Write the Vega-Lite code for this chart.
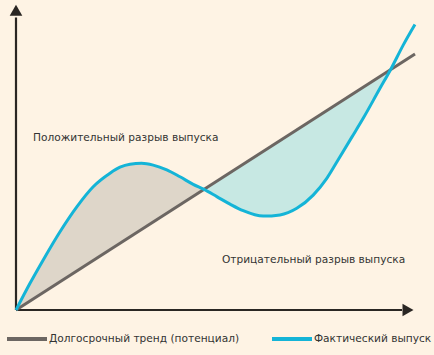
{
  "$schema": "https://vega.github.io/schema/vega-lite/v6.json",
  "width": 400,
  "height": 300,
  "autosize": {"type": "none"},
  "padding": {"left": 16, "top": 10, "right": 18, "bottom": 45},
  "background": "#FEF3E4",
  "config": {
    "view": {"stroke": null},
    "legend": {
      "orient": "none",
      "legendX": -11,
      "legendY": 307,
      "direction": "horizontal",
      "symbolType": "stroke",
      "symbolSize": 1600,
      "symbolStrokeWidth": 4,
      "labelFont": "DejaVu Sans",
      "labelFontSize": 10.6,
      "labelColor": "#333333",
      "labelLimit": 400,
      "labelOffset": 0,
      "columnPadding": 24,
      "padding": 0,
      "title": null
    }
  },
  "datasets": {
    "areas": [
      {"x": 0, "curve": 0, "trend": 0, "region": "pos"},
      {"x": 3.5, "curve": 8.9, "trend": 3.0, "region": "pos"},
      {"x": 6.8, "curve": 16.7, "trend": 5.8, "region": "pos"},
      {"x": 11, "curve": 26.1, "trend": 9.4, "region": "pos"},
      {"x": 15.2, "curve": 34.4, "trend": 13.0, "region": "pos"},
      {"x": 19.3, "curve": 41.1, "trend": 16.5, "region": "pos"},
      {"x": 23.5, "curve": 45.6, "trend": 20.1, "region": "pos"},
      {"x": 26, "curve": 47.6, "trend": 22.2, "region": "pos"},
      {"x": 28.5, "curve": 48.6, "trend": 24.4, "region": "pos"},
      {"x": 31.4, "curve": 48.9, "trend": 26.8, "region": "pos"},
      {"x": 34.3, "curve": 48.3, "trend": 29.3, "region": "pos"},
      {"x": 37.7, "curve": 46.7, "trend": 32.2, "region": "pos"},
      {"x": 41, "curve": 44.4, "trend": 35.1, "region": "pos"},
      {"x": 44.3, "curve": 41.9, "trend": 37.9, "region": "pos"},
      {"x": 47, "curve": 40.2, "trend": 40.2, "region": "pos"},
      {"x": 47, "curve": 40.2, "trend": 40.2, "region": "neg"},
      {"x": 50.2, "curve": 37.8, "trend": 42.9, "region": "neg"},
      {"x": 53.5, "curve": 35.3, "trend": 45.7, "region": "neg"},
      {"x": 56.8, "curve": 33.1, "trend": 48.6, "region": "neg"},
      {"x": 61.8, "curve": 31.3, "trend": 52.8, "region": "neg"},
      {"x": 66, "curve": 31.7, "trend": 56.4, "region": "neg"},
      {"x": 70.2, "curve": 33.9, "trend": 60.0, "region": "neg"},
      {"x": 74.3, "curve": 38.3, "trend": 63.5, "region": "neg"},
      {"x": 77.7, "curve": 43.9, "trend": 66.4, "region": "neg"},
      {"x": 81, "curve": 51.1, "trend": 69.3, "region": "neg"},
      {"x": 84, "curve": 57.7, "trend": 71.8, "region": "neg"},
      {"x": 86.8, "curve": 63.9, "trend": 74.2, "region": "neg"},
      {"x": 91, "curve": 73.9, "trend": 77.8, "region": "neg"},
      {"x": 93.6, "curve": 80.0, "trend": 80.0, "region": "neg"}
    ],
    "lines": [
      {"x": 0, "y": 0, "series": "Долгосрочный тренд (потенциал)"},
      {"x": 99.75, "y": 85.3, "series": "Долгосрочный тренд (потенциал)"},
      {"x": 0, "y": 0, "series": "Фактический выпуск"},
      {"x": 3.5, "y": 8.9, "series": "Фактический выпуск"},
      {"x": 6.8, "y": 16.7, "series": "Фактический выпуск"},
      {"x": 11, "y": 26.1, "series": "Фактический выпуск"},
      {"x": 15.2, "y": 34.4, "series": "Фактический выпуск"},
      {"x": 19.3, "y": 41.1, "series": "Фактический выпуск"},
      {"x": 23.5, "y": 45.6, "series": "Фактический выпуск"},
      {"x": 26, "y": 47.6, "series": "Фактический выпуск"},
      {"x": 28.5, "y": 48.6, "series": "Фактический выпуск"},
      {"x": 31.4, "y": 48.9, "series": "Фактический выпуск"},
      {"x": 34.3, "y": 48.3, "series": "Фактический выпуск"},
      {"x": 37.7, "y": 46.7, "series": "Фактический выпуск"},
      {"x": 41, "y": 44.4, "series": "Фактический выпуск"},
      {"x": 44.3, "y": 41.9, "series": "Фактический выпуск"},
      {"x": 47, "y": 40.2, "series": "Фактический выпуск"},
      {"x": 50.2, "y": 37.8, "series": "Фактический выпуск"},
      {"x": 53.5, "y": 35.3, "series": "Фактический выпуск"},
      {"x": 56.8, "y": 33.1, "series": "Фактический выпуск"},
      {"x": 61.8, "y": 31.3, "series": "Фактический выпуск"},
      {"x": 66, "y": 31.7, "series": "Фактический выпуск"},
      {"x": 70.2, "y": 33.9, "series": "Фактический выпуск"},
      {"x": 74.3, "y": 38.3, "series": "Фактический выпуск"},
      {"x": 77.7, "y": 43.9, "series": "Фактический выпуск"},
      {"x": 81, "y": 51.1, "series": "Фактический выпуск"},
      {"x": 84, "y": 57.7, "series": "Фактический выпуск"},
      {"x": 86.8, "y": 63.9, "series": "Фактический выпуск"},
      {"x": 91, "y": 73.9, "series": "Фактический выпуск"},
      {"x": 93.6, "y": 80.0, "series": "Фактический выпуск"},
      {"x": 96.8, "y": 88.3, "series": "Фактический выпуск"},
      {"x": 99.75, "y": 95.2, "series": "Фактический выпуск"}
    ],
    "axes": [
      {"x": 0, "y": 0, "x2": 96.5, "y2": 0},
      {"x": 0, "y": 0, "x2": 0, "y2": 97.5}
    ],
    "arrows": [
      {"x": 98, "y": 0, "shape": "triangle-right"},
      {"x": 0, "y": 99.9, "shape": "triangle-up"}
    ],
    "labels": [
      {"x": 4.25, "y": 56.4, "text": "Положительный разрыв выпуска"},
      {"x": 51.5, "y": 15.6, "text": "Отрицательный разрыв выпуска"}
    ]
  },
  "layer": [
    {
      "data": {"name": "areas"},
      "mark": {"type": "area", "interpolate": "monotone", "opacity": 1},
      "encoding": {
        "x": {"field": "x", "type": "quantitative", "scale": {"domain": [0, 100], "nice": false, "zero": false}, "axis": null},
        "y": {"field": "curve", "type": "quantitative", "scale": {"domain": [0, 100], "nice": false, "zero": false}, "axis": null},
        "y2": {"field": "trend"},
        "fill": {"field": "region", "type": "nominal", "scale": {"domain": ["pos", "neg"], "range": ["#DED6C9", "#C7E8E3"]}, "legend": null}
      }
    },
    {
      "data": {"name": "axes"},
      "mark": {"type": "rule", "color": "#2A2623", "strokeWidth": 2.2},
      "encoding": {
        "x": {"field": "x", "type": "quantitative"},
        "y": {"field": "y", "type": "quantitative"},
        "x2": {"field": "x2"},
        "y2": {"field": "y2"}
      }
    },
    {
      "data": {"name": "arrows"},
      "mark": {"type": "point", "filled": true, "color": "#2A2623", "size": 160, "opacity": 1},
      "encoding": {
        "x": {"field": "x", "type": "quantitative"},
        "y": {"field": "y", "type": "quantitative"},
        "shape": {"field": "shape", "type": "nominal", "scale": null}
      }
    },
    {
      "data": {"name": "lines"},
      "mark": {"type": "line", "interpolate": "monotone", "strokeWidth": 3},
      "encoding": {
        "x": {"field": "x", "type": "quantitative"},
        "y": {"field": "y", "type": "quantitative"},
        "stroke": {"field": "series", "type": "nominal", "scale": {"domain": ["Долгосрочный тренд (потенциал)", "Фактический выпуск"], "range": ["#6C6662", "#14B4D7"]}}
      }
    },
    {
      "data": {"name": "labels"},
      "mark": {"type": "text", "align": "left", "baseline": "alphabetic", "font": "DejaVu Sans", "fontSize": 10.6, "color": "#333333"},
      "encoding": {
        "x": {"field": "x", "type": "quantitative"},
        "y": {"field": "y", "type": "quantitative"},
        "text": {"field": "text", "type": "nominal"}
      }
    }
  ]
}
